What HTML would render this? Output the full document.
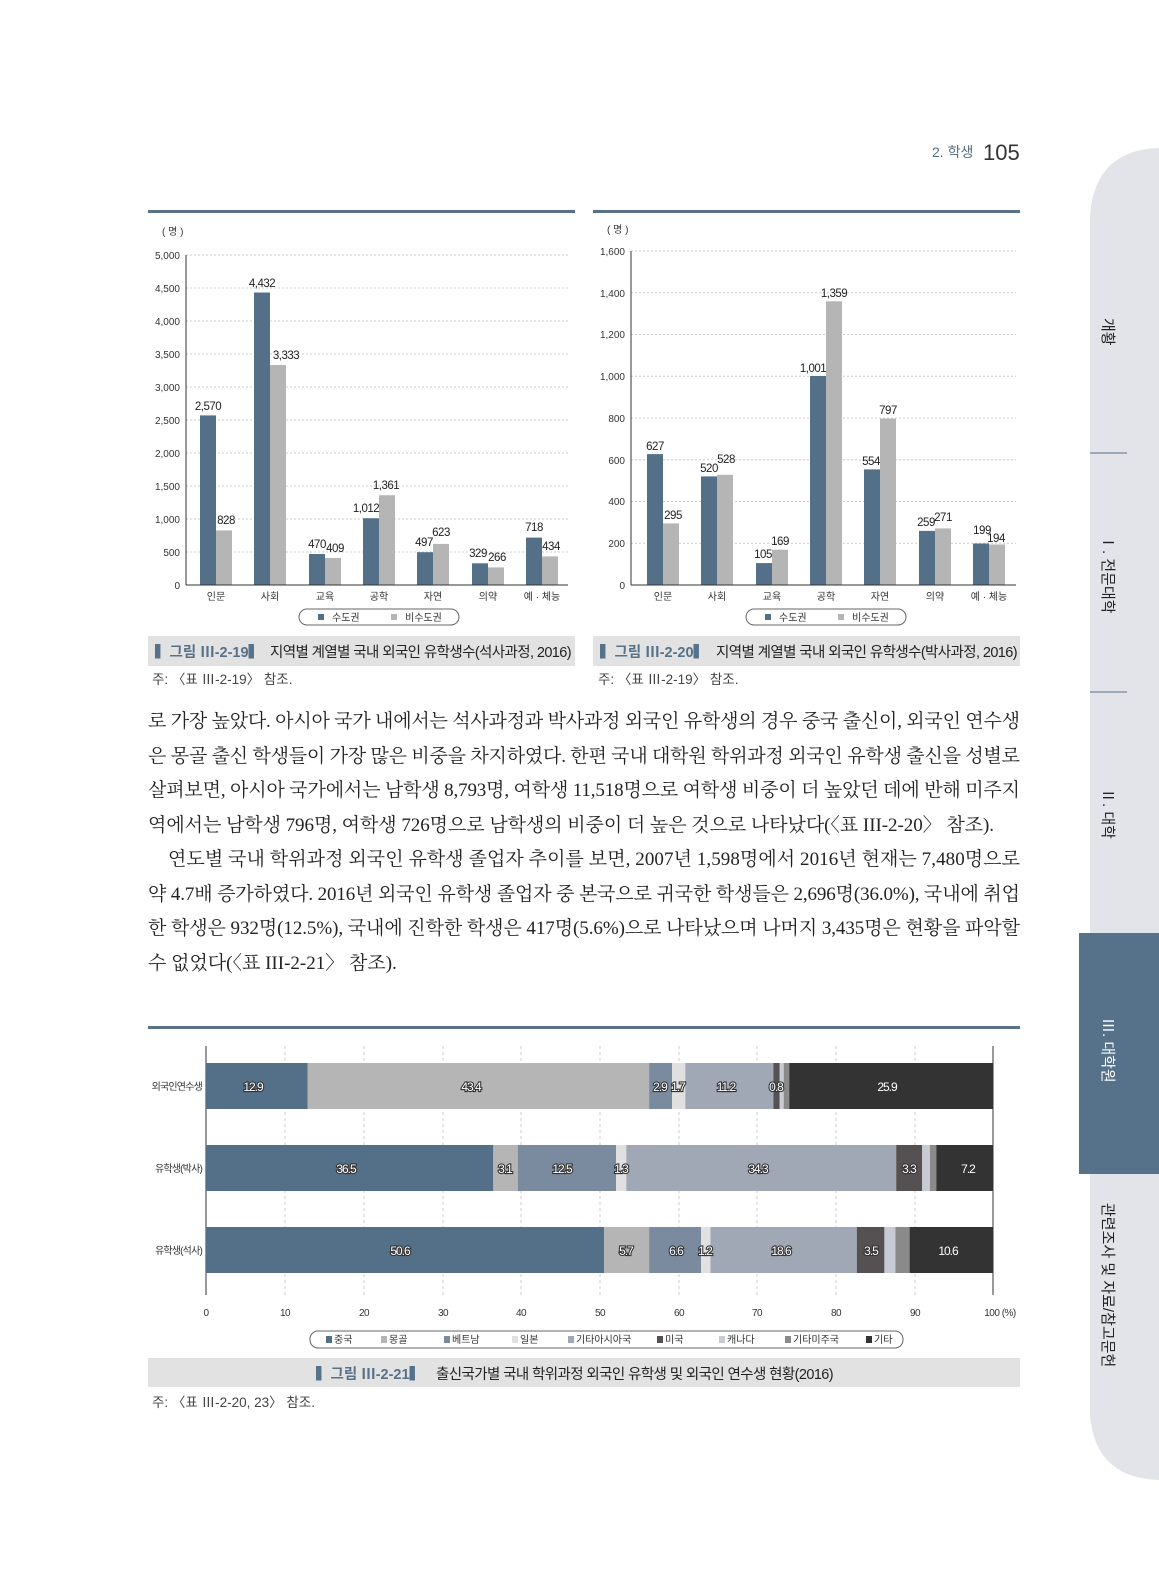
<!DOCTYPE html>
<html><head><meta charset="utf-8"><style>
body{margin:0;background:#fff;}
svg{display:block;font-family:"Liberation Sans","Noto Sans CJK KR",sans-serif;}
.b{font-family:"Liberation Serif","Noto Serif CJK SC",serif;font-size:19px;fill:#222;}
.t{font-size:10px;fill:#333;}
.v{font-size:11.5px;fill:#222;letter-spacing:-0.5px;}
.w{font-size:12px;fill:#fff;stroke:#333;stroke-width:2.2px;paint-order:stroke;letter-spacing:-1px;}
</style></head><body>
<svg width="1159" height="1571" viewBox="0 0 1159 1571">
<!-- header -->
<text x="932" y="157" font-size="14" fill="#56718a">2. 학생</text>
<text x="983" y="160" font-size="22" fill="#333">105</text>
<!-- sidebar -->
<path d="M1159 148 Q1095 150 1090 215 L1090 1415 Q1095 1478 1159 1480 Z" fill="#e3e4e9"/>
<rect x="1079" y="933" width="80" height="241" fill="#56718a"/>
<line x1="1090" y1="453" x2="1127" y2="453" stroke="#56718a"/>
<line x1="1090" y1="692" x2="1127" y2="692" stroke="#56718a"/>
<g font-size="15" fill="#222">
<text transform="translate(1103,318) rotate(90)">개황</text>
<text transform="translate(1103,535) rotate(90)">Ⅰ. 전문대학</text>
<text transform="translate(1103,788) rotate(90)">Ⅱ. 대학</text>
<text transform="translate(1103,1018) rotate(90)" fill="#fff">Ⅲ. 대학원</text>
<text transform="translate(1103,1203) rotate(90)">관련조사 및 자료/참고문헌</text>
</g>
<!-- top rules -->
<rect x="148" y="210" width="427" height="3" fill="#56718a"/>
<rect x="593" y="210" width="427" height="3" fill="#56718a"/>
<!-- chart1 -->
<text x="162" y="235" class="t">( 명 )</text>
<g stroke="#ccc" stroke-dasharray="2,2">
<line x1="186" y1="552" x2="568" y2="552"/><line x1="186" y1="519" x2="568" y2="519"/><line x1="186" y1="486" x2="568" y2="486"/><line x1="186" y1="453" x2="568" y2="453"/><line x1="186" y1="420" x2="568" y2="420"/><line x1="186" y1="387" x2="568" y2="387"/><line x1="186" y1="354" x2="568" y2="354"/><line x1="186" y1="321" x2="568" y2="321"/><line x1="186" y1="288" x2="568" y2="288"/><line x1="186" y1="255" x2="568" y2="255"/>
</g>
<g class="t" text-anchor="end">
<text x="180" y="589">0</text><text x="180" y="556">500</text><text x="180" y="523">1,000</text><text x="180" y="490">1,500</text><text x="180" y="457">2,000</text><text x="180" y="424">2,500</text><text x="180" y="391">3,000</text><text x="180" y="358">3,500</text><text x="180" y="325">4,000</text><text x="180" y="292">4,500</text><text x="180" y="259">5,000</text>
</g>
<g fill="#546f88">
<rect x="200" y="415.4" width="16" height="169.6"/><rect x="254" y="292.5" width="16" height="292.5"/><rect x="309" y="554" width="16" height="31"/><rect x="363" y="518.2" width="16" height="66.8"/><rect x="417" y="552.2" width="16" height="32.8"/><rect x="472" y="563.3" width="16" height="21.7"/><rect x="526" y="537.6" width="16" height="47.4"/>
</g>
<g fill="#b5b5b5">
<rect x="216" y="530.4" width="16" height="54.6"/><rect x="270" y="365" width="16" height="220"/><rect x="325" y="558" width="16" height="27"/><rect x="379" y="495.2" width="16" height="89.8"/><rect x="433" y="543.9" width="16" height="41.1"/><rect x="488" y="567.4" width="16" height="17.6"/><rect x="542" y="556.4" width="16" height="28.6"/>
</g>
<line x1="186" y1="255" x2="186" y2="585" stroke="#333"/><line x1="186" y1="585" x2="568" y2="585" stroke="#333"/>
<g class="v" text-anchor="middle">
<text x="208" y="410">2,570</text><text x="226" y="524">828</text><text x="262" y="287">4,432</text><text x="286" y="359">3,333</text><text x="317" y="548">470</text><text x="335" y="552">409</text><text x="366" y="512">1,012</text><text x="386" y="489">1,361</text><text x="424" y="546">497</text><text x="441" y="536">623</text><text x="478" y="557">329</text><text x="497" y="561">266</text><text x="534" y="531">718</text><text x="551" y="550">434</text>
</g>
<g class="t" text-anchor="middle">
<text x="216" y="600">인문</text><text x="270" y="600">사회</text><text x="325" y="600">교육</text><text x="379" y="600">공학</text><text x="433" y="600">자연</text><text x="488" y="600">의약</text><text x="542" y="600">예 · 체능</text>
</g>
<rect x="299" y="609" width="160" height="16" rx="8" fill="none" stroke="#666"/>
<rect x="318" y="614" width="6" height="6" fill="#546f88"/><text x="332" y="621" class="t">수도권</text>
<rect x="391" y="614" width="6" height="6" fill="#b5b5b5"/><text x="405" y="621" class="t">비수도권</text>
<rect x="148" y="636" width="427" height="30" fill="#e2e2e2"/>
<text x="155" y="657" font-size="14.5" fill="#56718a" font-weight="bold">▍그림 Ⅲ-2-19▍</text>
<text x="270" y="657" font-size="14.5" fill="#222" letter-spacing="-0.6">지역별 계열별 국내 외국인 유학생수(석사과정, 2016)</text>
<text x="152" y="684" font-size="13.5" fill="#444">주: 〈표 Ⅲ-2-19〉 참조.</text>
<!-- chart2 -->
<text x="607" y="233" class="t">( 명 )</text>
<g stroke="#ccc" stroke-dasharray="2,2">
<line x1="631" y1="543.25" x2="1016" y2="543.25"/><line x1="631" y1="501.5" x2="1016" y2="501.5"/><line x1="631" y1="459.75" x2="1016" y2="459.75"/><line x1="631" y1="418" x2="1016" y2="418"/><line x1="631" y1="376.25" x2="1016" y2="376.25"/><line x1="631" y1="334.5" x2="1016" y2="334.5"/><line x1="631" y1="292.75" x2="1016" y2="292.75"/><line x1="631" y1="251" x2="1016" y2="251"/>
</g>
<g class="t" text-anchor="end">
<text x="625" y="589">0</text><text x="625" y="547">200</text><text x="625" y="505">400</text><text x="625" y="464">600</text><text x="625" y="422">800</text><text x="625" y="380">1,000</text><text x="625" y="338">1,200</text><text x="625" y="297">1,400</text><text x="625" y="255">1,600</text>
</g>
<g fill="#546f88">
<rect x="647" y="454.1" width="16" height="130.9"/><rect x="701" y="476.4" width="16" height="108.6"/><rect x="756" y="563.1" width="16" height="21.9"/><rect x="810" y="376" width="16" height="209"/><rect x="864" y="469.4" width="16" height="115.6"/><rect x="919" y="530.9" width="16" height="54.1"/><rect x="973" y="543.5" width="16" height="41.5"/>
</g>
<g fill="#b5b5b5">
<rect x="663" y="523.4" width="16" height="61.6"/><rect x="717" y="474.8" width="16" height="110.2"/><rect x="772" y="549.7" width="16" height="35.3"/><rect x="826" y="301.3" width="16" height="283.7"/><rect x="880" y="418.6" width="16" height="166.4"/><rect x="935" y="528.4" width="16" height="56.6"/><rect x="989" y="544.5" width="16" height="40.5"/>
</g>
<line x1="631" y1="251" x2="631" y2="585" stroke="#333"/><line x1="631" y1="585" x2="1016" y2="585" stroke="#333"/>
<g class="v" text-anchor="middle">
<text x="655" y="450">627</text><text x="673" y="519">295</text><text x="709" y="472">520</text><text x="726" y="463">528</text><text x="763" y="558">105</text><text x="780" y="545">169</text><text x="813" y="372">1,001</text><text x="834" y="297">1,359</text><text x="871" y="465">554</text><text x="888" y="414">797</text><text x="926" y="526">259</text><text x="943" y="521">271</text><text x="982" y="534">199</text><text x="996" y="542">194</text>
</g>
<g class="t" text-anchor="middle">
<text x="663" y="600">인문</text><text x="717" y="600">사회</text><text x="772" y="600">교육</text><text x="826" y="600">공학</text><text x="880" y="600">자연</text><text x="935" y="600">의약</text><text x="989" y="600">예 · 체능</text>
</g>
<rect x="746" y="609" width="160" height="16" rx="8" fill="none" stroke="#666"/>
<rect x="765" y="614" width="6" height="6" fill="#546f88"/><text x="779" y="621" class="t">수도권</text>
<rect x="838" y="614" width="6" height="6" fill="#b5b5b5"/><text x="852" y="621" class="t">비수도권</text>
<rect x="593" y="636" width="427" height="30" fill="#e2e2e2"/>
<text x="600" y="657" font-size="14.5" fill="#56718a" font-weight="bold">▍그림 Ⅲ-2-20▍</text>
<text x="716" y="657" font-size="14.5" fill="#222" letter-spacing="-0.6">지역별 계열별 국내 외국인 유학생수(박사과정, 2016)</text>
<text x="598" y="684" font-size="13.5" fill="#444">주: 〈표 Ⅲ-2-19〉 참조.</text>
<!-- body text -->
<g class="b">
<text x="148" y="727" textLength="872" lengthAdjust="spacing">로 가장 높았다. 아시아 국가 내에서는 석사과정과 박사과정 외국인 유학생의 경우 중국 출신이, 외국인 연수생</text>
<text x="148" y="762" textLength="872" lengthAdjust="spacing">은 몽골 출신 학생들이 가장 많은 비중을 차지하였다. 한편 국내 대학원 학위과정 외국인 유학생 출신을 성별로</text>
<text x="148" y="796" textLength="872" lengthAdjust="spacing">살펴보면, 아시아 국가에서는 남학생 8,793명, 여학생 11,518명으로 여학생 비중이 더 높았던 데에 반해 미주지</text>
<text x="148" y="831" textLength="846" lengthAdjust="spacing">역에서는 남학생 796명, 여학생 726명으로 남학생의 비중이 더 높은 것으로 나타났다(〈표 III-2-20〉 참조).</text>
<text x="168" y="865" textLength="852" lengthAdjust="spacing">연도별 국내 학위과정 외국인 유학생 졸업자 추이를 보면, 2007년 1,598명에서 2016년 현재는 7,480명으로</text>
<text x="148" y="900" textLength="872" lengthAdjust="spacing">약 4.7배 증가하였다. 2016년 외국인 유학생 졸업자 중 본국으로 귀국한 학생들은 2,696명(36.0%), 국내에 취업</text>
<text x="148" y="934" textLength="872" lengthAdjust="spacing">한 학생은 932명(12.5%), 국내에 진학한 학생은 417명(5.6%)으로 나타났으며 나머지 3,435명은 현황을 파악할</text>
<text x="148" y="969">수 없었다(〈표 III-2-21〉 참조).</text>
</g>
<!-- bottom chart -->
<rect x="148" y="1026" width="872" height="3" fill="#56718a"/>
<g stroke="#ccc" stroke-dasharray="3,3">
<line x1="285" y1="1046" x2="285" y2="1295"/><line x1="364" y1="1046" x2="364" y2="1295"/><line x1="443" y1="1046" x2="443" y2="1295"/><line x1="521" y1="1046" x2="521" y2="1295"/><line x1="600" y1="1046" x2="600" y2="1295"/><line x1="679" y1="1046" x2="679" y2="1295"/><line x1="757" y1="1046" x2="757" y2="1295"/><line x1="836" y1="1046" x2="836" y2="1295"/><line x1="915" y1="1046" x2="915" y2="1295"/>
</g>
<line x1="206" y1="1046" x2="206" y2="1295" stroke="#333"/><line x1="993" y1="1046" x2="993" y2="1295" stroke="#333"/>
<!-- row1 -->
<g>
<rect x="206" y="1063" width="101.5" height="46" fill="#546f88"/><rect x="307.5" y="1063" width="341.6" height="46" fill="#b5b5b5"/><rect x="649.1" y="1063" width="22.9" height="46" fill="#7a8ba0"/><rect x="672" y="1063" width="13.3" height="46" fill="#e0e0e0"/><rect x="685.3" y="1063" width="88.2" height="46" fill="#a0a8b5"/><rect x="773.5" y="1063" width="6.2" height="46" fill="#555052"/><rect x="779.7" y="1063" width="4" height="46" fill="#c8cad4"/><rect x="783.7" y="1063" width="5.5" height="46" fill="#8a8a8a"/><rect x="789.2" y="1063" width="203.8" height="46" fill="#333"/>
</g>
<g>
<rect x="206" y="1145" width="287.3" height="46" fill="#546f88"/><rect x="493.3" y="1145" width="24.4" height="46" fill="#b5b5b5"/><rect x="517.7" y="1145" width="98.3" height="46" fill="#7a8ba0"/><rect x="616" y="1145" width="10.3" height="46" fill="#e0e0e0"/><rect x="626.3" y="1145" width="269.9" height="46" fill="#a0a8b5"/><rect x="896.2" y="1145" width="26" height="46" fill="#555052"/><rect x="922.2" y="1145" width="7.8" height="46" fill="#c8cad4"/><rect x="930" y="1145" width="6.3" height="46" fill="#8a8a8a"/><rect x="936.3" y="1145" width="56.7" height="46" fill="#333"/>
</g>
<g>
<rect x="206" y="1227" width="398.2" height="46" fill="#546f88"/><rect x="604.2" y="1227" width="44.9" height="46" fill="#b5b5b5"/><rect x="649.1" y="1227" width="51.9" height="46" fill="#7a8ba0"/><rect x="701" y="1227" width="9.5" height="46" fill="#e0e0e0"/><rect x="710.5" y="1227" width="146.3" height="46" fill="#a0a8b5"/><rect x="856.8" y="1227" width="27.6" height="46" fill="#555052"/><rect x="884.4" y="1227" width="11" height="46" fill="#c8cad4"/><rect x="895.4" y="1227" width="14.2" height="46" fill="#8a8a8a"/><rect x="909.6" y="1227" width="83.4" height="46" fill="#333"/>
</g>
<g class="w" text-anchor="middle">
<text x="253" y="1091">12.9</text><text x="471" y="1091">43.4</text><text x="660" y="1091">2.9</text><text x="678" y="1091">1.7</text><text x="726" y="1091">11.2</text><text x="776" y="1091">0.8</text><text x="887" y="1091">25.9</text>
<text x="346" y="1173">36.5</text><text x="505" y="1173">3.1</text><text x="562" y="1173">12.5</text><text x="621" y="1173">1.3</text><text x="758" y="1173">34.3</text><text x="909" y="1173">3.3</text><text x="968" y="1173">7.2</text>
<text x="400" y="1255">50.6</text><text x="626" y="1255">5.7</text><text x="676" y="1255">6.6</text><text x="705" y="1255">1.2</text><text x="781" y="1255">18.6</text><text x="871" y="1255">3.5</text><text x="948" y="1255">10.6</text>
</g>
<g class="t" text-anchor="end" letter-spacing="-0.8">
<text x="202" y="1090">외국인연수생</text><text x="202" y="1172">유학생(박사)</text><text x="202" y="1254">유학생(석사)</text>
</g>
<g class="t" text-anchor="middle" letter-spacing="-0.5">
<text x="206" y="1316">0</text><text x="285" y="1316">10</text><text x="364" y="1316">20</text><text x="443" y="1316">30</text><text x="521" y="1316">40</text><text x="600" y="1316">50</text><text x="679" y="1316">60</text><text x="757" y="1316">70</text><text x="836" y="1316">80</text><text x="915" y="1316">90</text><text x="1000" y="1316">100 (%)</text>
</g>
<rect x="310" y="1331" width="593" height="17" rx="8" fill="none" stroke="#666"/>
<g class="t">
<rect x="326" y="1336" width="6" height="7" fill="#546f88"/><text x="334" y="1343">중국</text>
<rect x="381" y="1336" width="6" height="7" fill="#b5b5b5"/><text x="389" y="1343">몽골</text>
<rect x="444" y="1336" width="6" height="7" fill="#7a8ba0"/><text x="452" y="1343">베트남</text>
<rect x="512" y="1336" width="6" height="7" fill="#e0e0e0"/><text x="520" y="1343">일본</text>
<rect x="568" y="1336" width="6" height="7" fill="#a0a8b5"/><text x="576" y="1343">기타아시아국</text>
<rect x="657" y="1336" width="6" height="7" fill="#555052"/><text x="665" y="1343">미국</text>
<rect x="719" y="1336" width="6" height="7" fill="#c8cad4"/><text x="727" y="1343">캐나다</text>
<rect x="785" y="1336" width="6" height="7" fill="#8a8a8a"/><text x="793" y="1343">기타미주국</text>
<rect x="866" y="1336" width="6" height="7" fill="#333"/><text x="874" y="1343">기타</text>
</g>
<rect x="148" y="1358" width="872" height="29" fill="#e2e2e2"/>
<text x="316" y="1379" font-size="14.5" fill="#56718a" font-weight="bold">▍그림 Ⅲ-2-21▍</text>
<text x="436" y="1379" font-size="14.5" fill="#222" letter-spacing="-0.6">출신국가별 국내 학위과정 외국인 유학생 및 외국인 연수생 현황(2016)</text>
<text x="152" y="1407" font-size="13.5" fill="#444">주: 〈표 Ⅲ-2-20, 23〉 참조.</text>
</svg>
</body></html>
